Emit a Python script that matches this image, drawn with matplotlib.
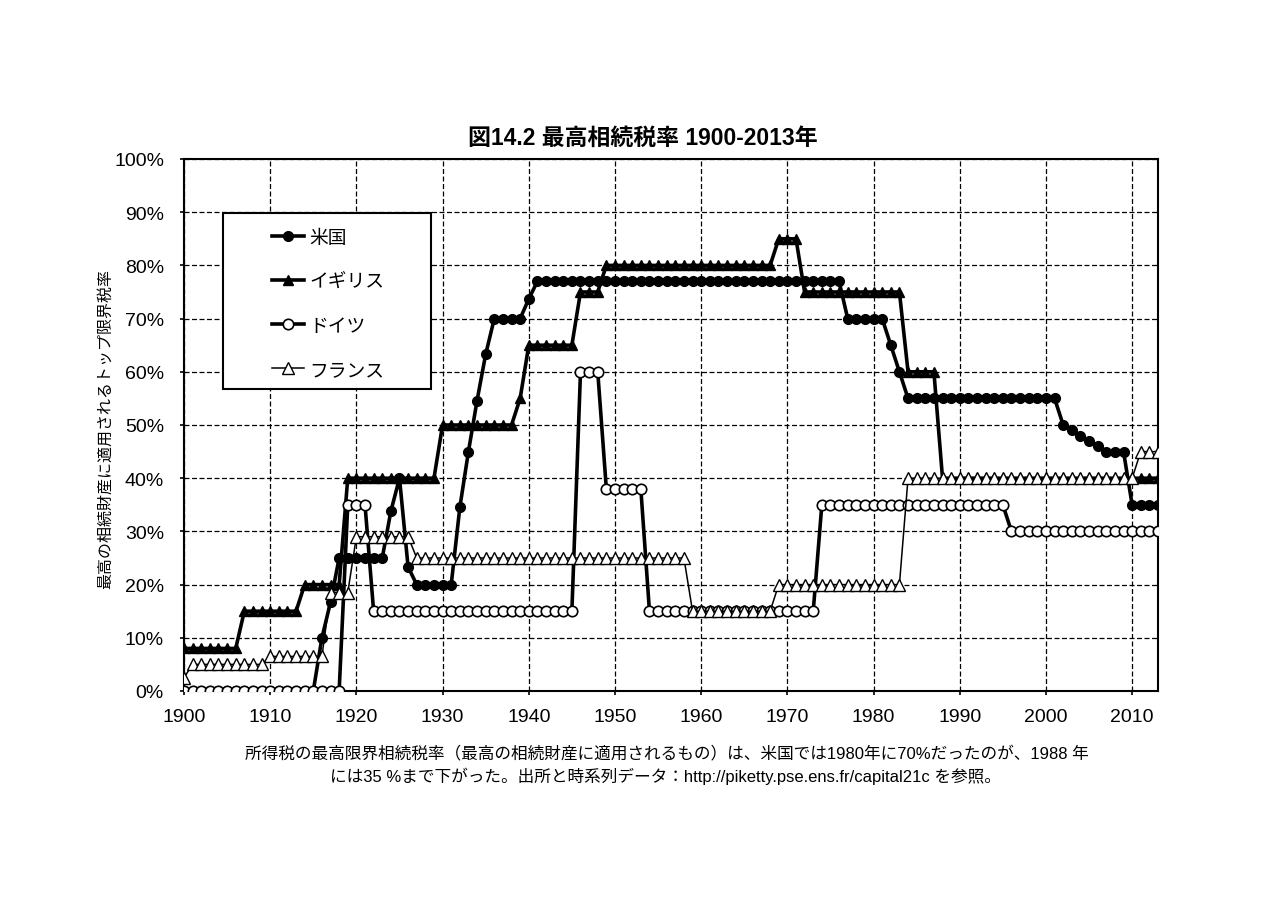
import numpy as np
import matplotlib
matplotlib.use("Agg")
import matplotlib.pyplot as plt
from matplotlib.patches import Rectangle
from matplotlib.ticker import MultipleLocator, FuncFormatter

plt.rcParams['font.family'] = ['Liberation Sans', 'Noto Sans CJK JP', 'DejaVu Sans']

years = np.arange(1900, 2014)

# top inheritance tax rates (%), one value per year 1900-2013
usa = [0, 0, 0, 0, 0, 0, 0, 0, 0, 0,
       0, 0, 0, 0, 0, 0, 10, 16.7, 25, 25,
       25, 25, 25, 25, 33.8, 40, 23.3, 20, 20, 20,
       20, 20, 34.5, 45, 54.6, 63.3, 70, 70, 70, 70,
       73.7, 77, 77, 77, 77, 77, 77, 77, 77, 77,
       77, 77, 77, 77, 77, 77, 77, 77, 77, 77,
       77, 77, 77, 77, 77, 77, 77, 77, 77, 77,
       77, 77, 77, 77, 77, 77, 77, 70, 70, 70,
       70, 70, 65, 60, 55, 55, 55, 55, 55, 55,
       55, 55, 55, 55, 55, 55, 55, 55, 55, 55,
       55, 55, 50, 49, 48, 47, 46, 45, 45, 45,
       35, 35, 35, 35]

uk = [8, 8, 8, 8, 8, 8, 8, 15, 15, 15,
      15, 15, 15, 15, 20, 20, 20, 20, 20, 40,
      40, 40, 40, 40, 40, 40, 40, 40, 40, 40,
      50, 50, 50, 50, 50, 50, 50, 50, 50, 55,
      65, 65, 65, 65, 65, 65, 75, 75, 75, 80,
      80, 80, 80, 80, 80, 80, 80, 80, 80, 80,
      80, 80, 80, 80, 80, 80, 80, 80, 80, 85,
      85, 85, 75, 75, 75, 75, 75, 75, 75, 75,
      75, 75, 75, 75, 60, 60, 60, 60, 40, 40,
      40, 40, 40, 40, 40, 40, 40, 40, 40, 40,
      40, 40, 40, 40, 40, 40, 40, 40, 40, 40,
      40, 40, 40, 40]

germany = [0, 0, 0, 0, 0, 0, 0, 0, 0, 0,
           0, 0, 0, 0, 0, 0, 0, 0, 0, 35,
           35, 35, 15, 15, 15, 15, 15, 15, 15, 15,
           15, 15, 15, 15, 15, 15, 15, 15, 15, 15,
           15, 15, 15, 15, 15, 15, 60, 60, 60, 38,
           38, 38, 38, 38, 15, 15, 15, 15, 15, 15,
           15, 15, 15, 15, 15, 15, 15, 15, 15, 15,
           15, 15, 15, 15, 35, 35, 35, 35, 35, 35,
           35, 35, 35, 35, 35, 35, 35, 35, 35, 35,
           35, 35, 35, 35, 35, 35, 30, 30, 30, 30,
           30, 30, 30, 30, 30, 30, 30, 30, 30, 30,
           30, 30, 30, 30]

france = [2.5, 5, 5, 5, 5, 5, 5, 5, 5, 5,
          6.5, 6.5, 6.5, 6.5, 6.5, 6.5, 6.5, 18.5, 18.5, 18.5,
          29, 29, 29, 29, 29, 29, 29, 25, 25, 25,
          25, 25, 25, 25, 25, 25, 25, 25, 25, 25,
          25, 25, 25, 25, 25, 25, 25, 25, 25, 25,
          25, 25, 25, 25, 25, 25, 25, 25, 25, 15,
          15, 15, 15, 15, 15, 15, 15, 15, 15, 20,
          20, 20, 20, 20, 20, 20, 20, 20, 20, 20,
          20, 20, 20, 20, 40, 40, 40, 40, 40, 40,
          40, 40, 40, 40, 40, 40, 40, 40, 40, 40,
          40, 40, 40, 40, 40, 40, 40, 40, 40, 40,
          40, 45, 45, 45]

labels = ["米国", "イギリス", "ドイツ", "フランス"]

fig = plt.figure(figsize=(12.8, 9.04), dpi=100)
ax = fig.add_axes([184/1280, 1-692/904, (1158-184)/1280, (692-160)/904])

ax.plot(years, usa, color="black", lw=2.6, marker="o", ms=7,
        mfc="black", mec="black", label=labels[0], zorder=3)
ax.plot(years, uk, color="black", lw=2.6, marker="^", ms=7.5,
        mfc="black", mec="black", label=labels[1], zorder=3)
ax.plot(years, germany, color="black", lw=2.6, marker="o", ms=7.5,
        mfc="white", mec="black", mew=1.2, label=labels[2], zorder=4)
ax.plot(years, france, color="black", lw=1.1, marker="^", ms=8,
        mfc="white", mec="black", mew=1.0, label=labels[3], zorder=5)

ax.set_xlim(1900, 2013)
ax.set_ylim(0, 100)
ax.xaxis.set_major_locator(MultipleLocator(10))
ax.yaxis.set_major_locator(MultipleLocator(10))
ax.yaxis.set_major_formatter(FuncFormatter(lambda v, p: "%d%%" % v))
ax.tick_params(axis="both", direction="out", length=3, width=1.2,
               labelsize=14, color="black")
ax.tick_params(axis="y", pad=11.4)
ax.tick_params(axis="x", pad=9.5)
ax.grid(True, color="black", linestyle=(0, (4, 2)), linewidth=0.9)
ax.set_axisbelow(True)
for s in ax.spines.values():
    s.set_linewidth(1.5)

# legend box
ax.add_patch(Rectangle((0.040, 0.568), 0.2136, 0.330, transform=ax.transAxes,
                       facecolor="white", edgecolor="black", lw=1.5, zorder=6))
leg = ax.legend(loc="upper left", bbox_to_anchor=(0.090, 0.867), frameon=False,
                fontsize=13.5, handlelength=1.7, handletextpad=0.3,
                labelspacing=1.43, borderpad=0, borderaxespad=0)
leg.set_zorder(7)

fig.text(643/1280, 1-138/904, "図14.2 最高相続税率 1900-2013年", ha="center",
         va="center", fontsize=16.5, fontweight="bold")
fig.text(105/1280, 1-429/904, "最高の相続財産に適用されるトップ限界税率",
         rotation=90, ha="center", va="center", fontsize=11.5)
fig.text(667/1280, 1-754/904,
         "所得税の最高限界相続税率（最高の相続財産に適用されるもの）は、米国では1980年に70%だったのが、1988 年",
         ha="center", va="center", fontsize=12)
fig.text(665/1280, 1-776/904,
         "には35 %まで下がった。出所と時系列データ：http://piketty.pse.ens.fr/capital21c を参照。",
         ha="center", va="center", fontsize=12)

fig.savefig("out.png", dpi=100)
